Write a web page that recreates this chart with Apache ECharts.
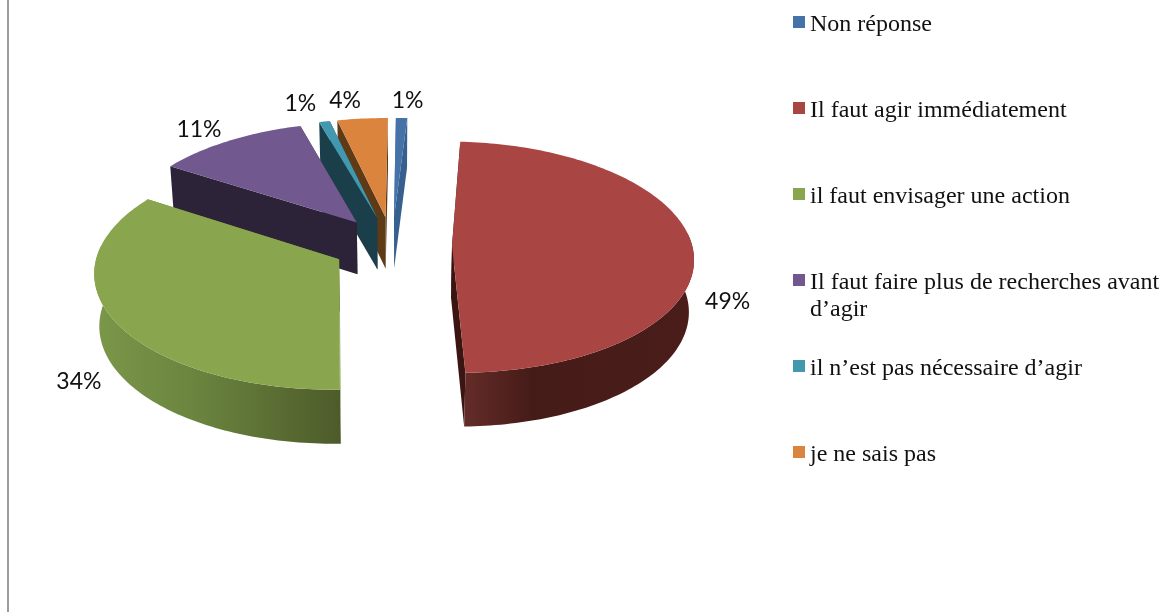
<!DOCTYPE html>
<html><head><meta charset="utf-8">
<style>html,body{margin:0;padding:0;background:#fff}#c{width:1171px;height:612px}</style>
<script src="https://cdn.jsdelivr.net/npm/echarts@6/dist/echarts.min.js"></script>
</head><body><div id="c"></div>
<script>
const categories = ["Non réponse","Il faut agir immédiatement","il faut envisager une action","Il faut faire plus de recherches avant d’agir","il n’est pas nécessaire d’agir","je ne sais pas"];
const values = [0.86,48.6,34.45,11.49,0.8,3.8];
const topColors = ["#4572a7","#a94543","#89a54e","#71588f","#4198af","#db843d"];
const sideColors = ["#36608f","#3a1512","#6f8a3f","#2d2338","#1a3f4b","#5f3a17"];
const wallStops = [
  [["#2c4a70",0],["#2c4a70",1]],
  [["#642c28",0],["#451b18",0.3],["#4a1d1a",1]],
  [["#7b9749",0],["#6b853f",0.4],["#4d5b2a",1]],
  [["#2d2338",0],["#2d2338",1]],
  [["#1a3f4b",0],["#1a3f4b",1]],
  [["#5f3a17",0],["#5f3a17",1]]
];
const drawOrder = [5,4,3,0,1,2];
const labelNudge = [[5,-2],[-6,54],[6,51],[-10,1],[-16,-3],[-14,-3]];
const legendIconCentres = [22,108,194,280,366,452];

// view geometry of the tilted, exploded pie
const view = {cx:392, cy:245, rx:240, ry:114.4, k:0.1, explode:0.25, depth:52, depthTilt:1.8, baseScale:0.983, startDeg:0.5};
const total = values.reduce((a,b)=>a+b,0);
const starts = []; values.reduce((acc,v,i)=>{starts[i]=acc; return acc+v;},0);
const toRad = v => v/total*2*Math.PI;

function projTop(u,v){const d=1+view.k*v;return [view.cx+view.rx*u/d, view.cy-view.ry*v/d];}
function projBase(u,v){const p=projTop(u,v);return [view.cx+(p[0]-view.cx)*view.baseScale, p[1]+view.depth-view.depthTilt*v];}

function renderSlice(i){
  return function(params, api){
    const val = api.value(0);
    const a0 = view.startDeg*Math.PI/180+toRad(starts[i]), a1 = a0+toRad(val), mid=(a0+a1)/2;
    const ox = view.explode*Math.sin(mid), oy = view.explode*Math.cos(mid);
    const arc = [];
    const n = Math.max(4, Math.ceil((a1-a0)/0.02));
    for(let j=0;j<=n;j++){const t=a0+(a1-a0)*j/n;arc.push([ox+Math.sin(t),oy+Math.cos(t)]);}
    const topArc = arc.map(p=>projTop(p[0],p[1]));
    const baseArc = arc.map(p=>projBase(p[0],p[1]));
    const apexT = projTop(ox,oy), apexB = projBase(ox,oy);
    const first = 0, last = arc.length-1;
    const children = [];
    const grad = {type:'linear',x:0,y:0,x2:1,y2:0,colorStops:wallStops[i].map(s=>({color:s[0],offset:s[1]}))};
    children.push({type:'polygon',silent:true,shape:{points:[apexT,topArc[first],baseArc[first],apexB]},style:{fill:sideColors[i]}});
    children.push({type:'polygon',silent:true,shape:{points:[apexT,topArc[last],baseArc[last],apexB]},style:{fill:sideColors[i]}});
    const fi=[];arc.forEach((p,j)=>{const t=a0+(a1-a0)*j/n; if(Math.cos(t)<0.12) fi.push(j);});
    if(fi.length>1){
      const pts = fi.map(j=>topArc[j]).concat(fi.slice().reverse().map(j=>baseArc[j]));
      children.push({type:'polygon',silent:true,shape:{points:pts},style:{fill:grad}});
    }
    children.push({type:'polygon',silent:true,shape:{points:[apexT].concat(topArc)},style:{fill:topColors[i]}});
    const lr = 1.17;
    const lp = projTop(ox+lr*Math.sin(mid), oy+lr*Math.cos(mid));
    children.push({type:'text',silent:true,z2:50,style:{x:lp[0]+labelNudge[i][0],y:lp[1]+labelNudge[i][1],text:Math.round(val/total*100)+'%',fill:'#111',
      font:'23px Lato',align:'center',verticalAlign:'middle'}});
    return {type:'group',children};
  };
}

const series = categories.map((name,i)=>({
  type:'custom',name,coordinateSystem:'none',silent:true,
  z:2+drawOrder.indexOf(i),
  itemStyle:{color:topColors[i]},
  data:[[values[i]]],
  renderItem:renderSlice(i),
  animation:false
}));

const legend = categories.map((name,i)=>{
  const two = i===3;
  const spacer = two ? 33 : 6;
  const boxH = spacer + (two ? 54 : 27);
  return {
    data:[name],left:793,top:legendIconCentres[i]-boxH/2,orient:'vertical',selectedMode:false,padding:0,
    itemWidth:12,itemHeight:12,icon:'rect',
    formatter:(n)=>{
      const lines = two ? [n.replace(' d’agir',''),'d’agir'] : [n];
      return ['{s| }'].concat(lines.map(l=>'{a|'+l+'}')).join('\n');
    },
    textStyle:{rich:{
      s:{lineHeight:spacer,height:spacer,fontSize:1},
      a:{fontFamily:'Liberation Serif',fontSize:24,color:'#111',lineHeight:27,height:27}
    }}
  };
});

const chart = echarts.init(document.getElementById('c'),null,{renderer:'canvas'});
chart.setOption({
  animation:false,backgroundColor:'#fff',tooltip:{show:false},
  legend,series,
  graphic:[{type:'rect',silent:true,shape:{x:7,y:0,width:2,height:612},style:{fill:'#9c9c9c'}}]
});
</script></body></html>
